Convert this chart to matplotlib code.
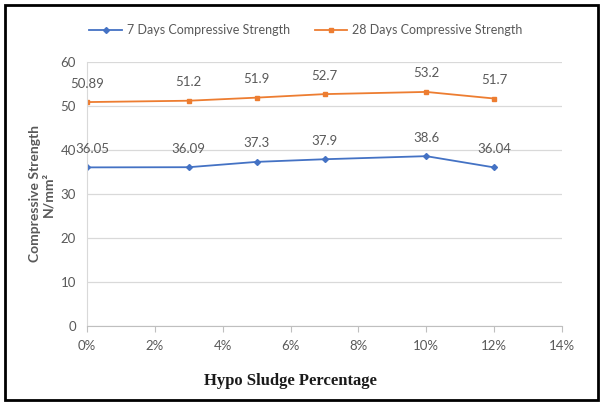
import matplotlib
matplotlib.use("Agg")
import matplotlib.pyplot as plt
from matplotlib.patches import Rectangle
from matplotlib.ticker import FuncFormatter

plt.rcParams['font.family'] = ['Lato', 'DejaVu Sans']

sludge_pct = [0, 3, 5, 7, 10, 12]
strength_7 = [36.05, 36.09, 37.3, 37.9, 38.6, 36.04]
strength_28 = [50.89, 51.2, 51.9, 52.7, 53.2, 51.7]
labels_7 = ["36.05", "36.09", "37.3", "37.9", "38.6", "36.04"]
labels_28 = ["50.89", "51.2", "51.9", "52.7", "53.2", "51.7"]

blue = "#4472C4"
orange = "#ED7D31"
txt = "#595959"

fig = plt.figure(figsize=(6.02, 4.03), dpi=100)
ax = fig.add_axes([87/602, 1 - 326/403, (562-87)/602, (326-62)/403])

ax.plot(sludge_pct, strength_7, color=blue, lw=1.3, marker="D", ms=3,
        label="7 Days Compressive Strength")
ax.plot(sludge_pct, strength_28, color=orange, lw=1.3, marker="s", ms=3.5,
        label="28 Days Compressive Strength")

for i, (x, y, s) in enumerate(zip(sludge_pct, strength_7, labels_7)):
    dx = 4 if i == 0 else 0
    ax.annotate(s, (x, y), xytext=(dx, 9), textcoords="offset points",
                ha="center", va="bottom", fontsize=9.5, color=txt)
for x, y, s in zip(sludge_pct, strength_28, labels_28):
    ax.annotate(s, (x, y), xytext=(0, 9), textcoords="offset points",
                ha="center", va="bottom", fontsize=9.5, color=txt)

ax.set_xlim(0, 14)
ax.set_ylim(0, 60)
ax.set_xticks(range(0, 15, 2))
ax.set_yticks(range(0, 61, 10))
ax.xaxis.set_major_formatter(FuncFormatter(lambda v, p: f"{int(v)}%"))
ax.grid(axis="y", color="#D9D9D9", lw=0.9)
ax.set_axisbelow(True)
for side in ["top", "right"]:
    ax.spines[side].set_visible(False)
ax.spines["left"].set_color("#D9D9D9")
ax.spines["bottom"].set_color("#BFBFBF")
ax.tick_params(axis="y", length=0, labelsize=9.5, labelcolor=txt, pad=8)
ax.tick_params(axis="x", length=4, color="#BFBFBF", labelsize=9.5, labelcolor=txt, pad=6)

fig.text(42/602, 1 - 194/403, "Compressive Strength\nN/mm\u00b2", rotation=90,
         ha="center", va="center", fontsize=10, fontweight="bold", color=txt,
         linespacing=1.15)
fig.text(290/602, 1 - 381/403, "Hypo Sludge Percentage", ha="center", va="center",
         fontsize=12, fontweight="bold", color="#1a1a1a",
         family=["Liberation Serif", "DejaVu Serif"])

fig.legend(loc="center", bbox_to_anchor=(306/602, 1 - 30/403), ncol=2,
           frameon=False, fontsize=9, labelcolor=txt, handlelength=2.6,
           handletextpad=0.4, columnspacing=2.0)

fig.patches.append(Rectangle((5/602, 3/403), 593/602, 395/403, transform=fig.transFigure,
                             fill=False, edgecolor="black", lw=2))

fig.savefig("out.png", dpi=100, facecolor="white")
